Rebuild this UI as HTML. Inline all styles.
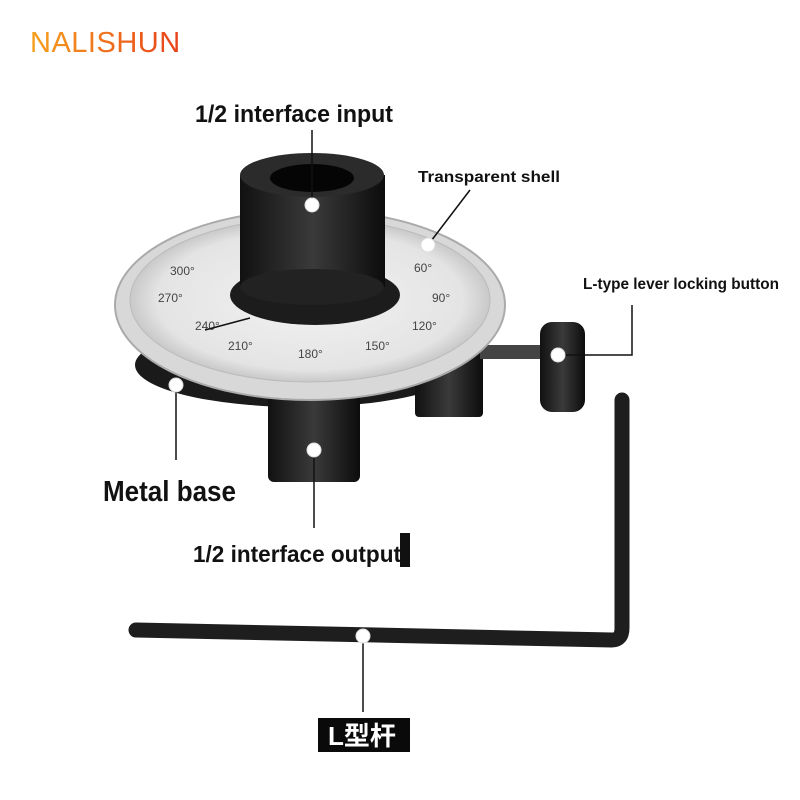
<!DOCTYPE html>
<html><head><meta charset="utf-8"><style>
html,body{margin:0;padding:0;background:#fff;width:800px;height:800px;overflow:hidden}
svg{display:block}
text{font-family:"Liberation Sans","Noto Sans CJK SC",sans-serif}
</style></head><body>
<svg width="800" height="800" viewBox="0 0 800 800" xmlns="http://www.w3.org/2000/svg">
<defs>
<linearGradient id="og" x1="0" y1="0" x2="1" y2="0"><stop offset="0" stop-color="#f5a01c"/><stop offset="1" stop-color="#e8421c"/></linearGradient>
<linearGradient id="dk" x1="0" y1="0" x2="1" y2="0"><stop offset="0" stop-color="#111"/><stop offset="0.5" stop-color="#3a3a3a"/><stop offset="1" stop-color="#0c0c0c"/></linearGradient>
<radialGradient id="face" cx="0.5" cy="0.5" r="0.5"><stop offset="0" stop-color="#f2f2f2"/><stop offset="0.85" stop-color="#e4e4e4"/><stop offset="1" stop-color="#c9c9c9"/></radialGradient>
</defs>
<text x="30" y="52" font-size="29" fill="url(#og)" letter-spacing="0.5">NALISHUN</text>

<ellipse cx="300" cy="365" rx="165" ry="42" fill="#1a1a1a"/>
<rect x="415" y="345" width="68" height="72" rx="4" fill="url(#dk)"/>
<rect x="480" y="345" width="65" height="14" fill="#444"/>
<rect x="540" y="322" width="45" height="90" rx="12" fill="url(#dk)"/>
<rect x="268" y="390" width="92" height="92" rx="6" fill="url(#dk)"/>
<ellipse cx="310" cy="305" rx="195" ry="95" fill="#d8d8d8" stroke="#aaa" stroke-width="2"/>
<ellipse cx="310" cy="300" rx="180" ry="82" fill="url(#face)" stroke="#bbb"/>
<g font-size="12" fill="#444">
<text x="170" y="275">300°</text><text x="158" y="302">270°</text><text x="195" y="330">240°</text>
<text x="228" y="350">210°</text><text x="298" y="358">180°</text><text x="365" y="350">150°</text>
<text x="412" y="330">120°</text><text x="432" y="302">90°</text><text x="414" y="272">60°</text>
</g>
<ellipse cx="315" cy="295" rx="85" ry="30" fill="#1c1c1c"/>
<rect x="240" y="175" width="145" height="112" fill="url(#dk)"/>
<ellipse cx="312" cy="287" rx="72" ry="18" fill="#222"/>
<ellipse cx="312" cy="175" rx="72" ry="22" fill="#2b2b2b"/>
<ellipse cx="312" cy="178" rx="42" ry="14" fill="#050505"/>

<path d="M136 630 L612 640 Q622 640 622 628 L622 400" stroke="#1e1e1e" stroke-width="15" fill="none" stroke-linejoin="round" stroke-linecap="round"/>

<g stroke="#111" stroke-width="1.5" fill="none">
<line x1="312" y1="130" x2="312" y2="205"/>
<line x1="470" y1="190" x2="428" y2="245"/>
<polyline points="632,305 632,355 558,355"/>
<line x1="176" y1="385" x2="176" y2="460"/>
<line x1="314" y1="450" x2="314" y2="528"/>
<line x1="363" y1="636" x2="363" y2="712"/>
<line x1="250" y1="318" x2="205" y2="330"/>
</g>
<g fill="#fff" stroke="#ddd" stroke-width="1">
<circle cx="312" cy="205" r="7"/><circle cx="428" cy="245" r="7"/><circle cx="558" cy="355" r="7"/>
<circle cx="176" cy="385" r="7"/><circle cx="314" cy="450" r="7"/><circle cx="363" cy="636" r="7"/>
</g>
<rect x="400" y="533" width="10" height="34" fill="#111"/>

<g fill="#111" font-weight="bold">
<text x="195" y="122" font-size="24" textLength="198" lengthAdjust="spacingAndGlyphs">1/2 interface input</text>
<text x="418" y="182" font-size="16" textLength="142" lengthAdjust="spacingAndGlyphs">Transparent shell</text>
<text x="583" y="289" font-size="16" textLength="196" lengthAdjust="spacingAndGlyphs">L-type lever locking button</text>
<text x="103" y="501" font-size="29" textLength="133" lengthAdjust="spacingAndGlyphs">Metal base</text>
<text x="193" y="562" font-size="23" textLength="208" lengthAdjust="spacingAndGlyphs">1/2 interface output</text>
</g>
<rect x="318" y="718" width="92" height="34" fill="#0a0a0a"/>
<text x="328" y="745" font-size="26" font-weight="bold" fill="#fff">L型杆</text>
</svg>
</body></html>
